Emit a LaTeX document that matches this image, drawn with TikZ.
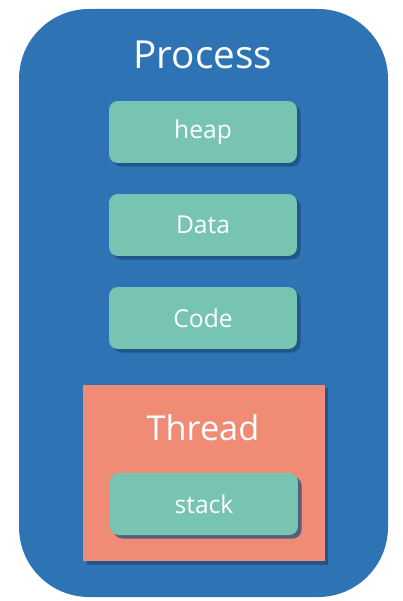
\documentclass[tikz,border=0pt]{standalone}
\usepackage{fontspec}
\setmainfont{Open Sans}
\usetikzlibrary{positioning,shadows}
\definecolor{procblue}{HTML}{2E74B5}
\definecolor{segteal}{HTML}{77C4B3}
\definecolor{thrsalmon}{HTML}{F08C75}
\definecolor{shadeblue}{HTML}{1B4A78}
\tikzset{
  procbox/.style={
    fill=procblue, rounded corners=1.4cm, inner sep=0pt
  },
  segbox/.style={
    fill=segteal, rounded corners=5pt, inner sep=0pt,
    minimum width=3.76cm, minimum height=1.24cm,
    text=white, font=\fontsize{14}{16}\selectfont,
    drop shadow={shadow xshift=2pt, shadow yshift=-2pt, fill=shadeblue, opacity=0.7}
  },
  thrbox/.style={
    fill=thrsalmon, inner sep=0pt,
    minimum width=4.84cm, minimum height=3.54cm,
    drop shadow={shadow xshift=2pt, shadow yshift=-2pt, fill=shadeblue, opacity=0.7}
  },
  bigtitle/.style={text=white, inner sep=0pt}
}
\begin{document}
\begin{tikzpicture}[x=0.02cm,y=-0.02cm]
  \useasboundingbox (0,0) rectangle (402,601);
  % process frame
  \fill[procbox] (19,9) rectangle (388,597);
  \node[bigtitle,font=\fontsize{22}{26}\selectfont] (proc) at (203,55) {Process};
  % memory segments
  \node[segbox] (heap) at (203,132) {heap};
  \node[segbox] (data) at (203,225) {Data};
  \node[segbox] (code) at (203,318) {Code};
  % thread
  \node[thrbox] (thr) at (204,473) {};
  \node[bigtitle,font=\fontsize{19.5}{23}\selectfont] (thrname) at (203,428) {Thread};
  \node[segbox] (stack) at (204,504) {stack};
\end{tikzpicture}
\end{document}
